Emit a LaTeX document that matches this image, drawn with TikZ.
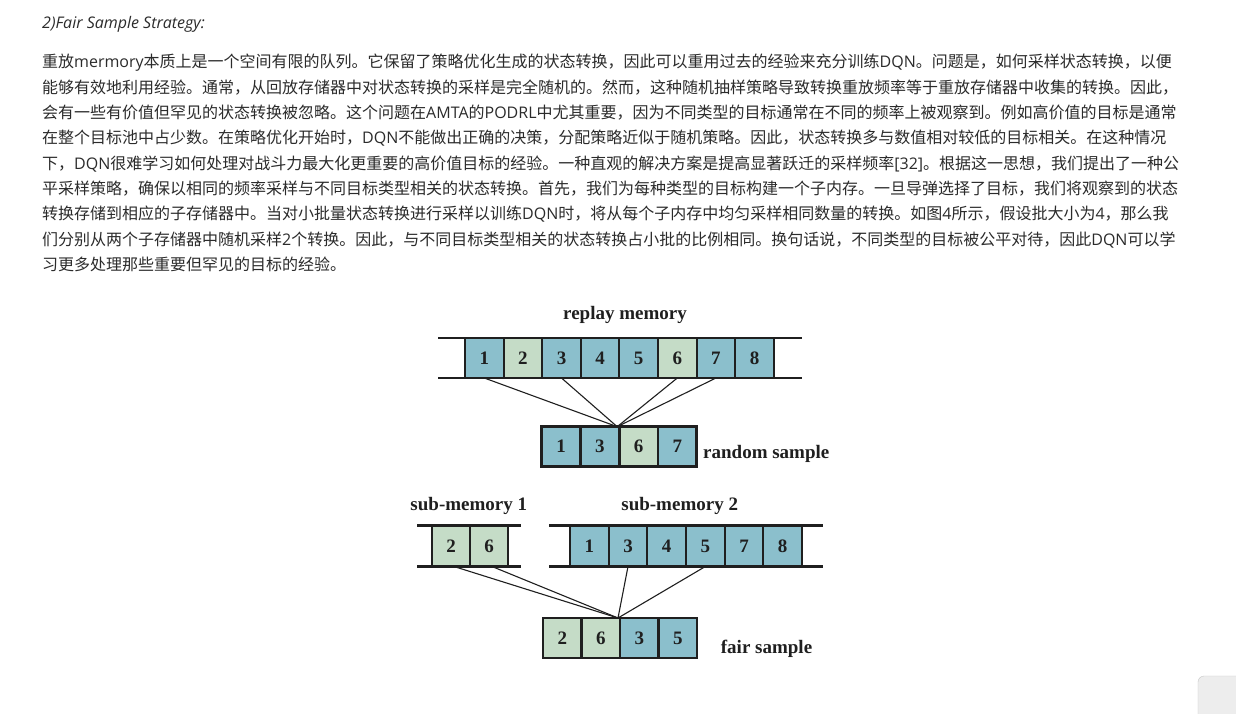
\documentclass[tikz,border=0pt]{standalone}
\usepackage{fontspec}
\setmainfont{Open Sans}
\newfontfamily\cjkfont{Noto Sans CJK SC}
\newfontfamily\figfont{Liberation Serif}
\newcommand{\eng}[1]{{\rmfamily #1}}
\usetikzlibrary{positioning}
\definecolor{cellblue}{RGB}{139,191,204}
\definecolor{cellgreen}{RGB}{197,220,199}
\definecolor{bodytext}{RGB}{43,43,43}

\begin{document}
\begin{tikzpicture}[
    x=1pt, y=-1pt,
    para/.style={anchor=base west, inner sep=0pt, text=bodytext, font=\cjkfont\fontsize{16}{25}\selectfont},
    cell/.style={rectangle, draw=black!88, line width=1.9pt, minimum width=38.6pt, minimum height=40pt, inner sep=0pt, outer sep=0pt, text=black!88, font=\figfont\bfseries\fontsize{19}{19}\selectfont},
    pick/.style={cell, line width=2.6pt},
    rail/.style={line width=2.6pt, draw=black!88},
    link/.style={line width=1.1pt, draw=black!88},
    tag/.style={inner sep=0pt, text=black!88, font=\figfont\bfseries\fontsize{19}{19}\selectfont}
]
\useasboundingbox (0,0) rectangle (1236,714);
\fill[white] (0,0) rectangle (1236,714);

% Text above the figure
\node[anchor=base west, inner sep=0pt, text=bodytext, font=\itshape\fontsize{16}{20}\selectfont] (title) at (42,29) {2)Fair Sample Strategy:};
\node[para] (line1) at (42,68) {重放\eng{mermory}本质上是一个空间有限的队列。它保留了策略优化生成的状态转换，因此可以重用过去的经验来充分训练\eng{DQN}。问题是，如何采样状态转换，以便};
\node[para] (line2) at (42,93.3) {能够有效地利用经验。通常，从回放存储器中对状态转换的采样是完全随机的。然而，这种随机抽样策略导致转换重放频率等于重放存储器中收集的转换。因此，};
\node[para] (line3) at (42,118.6) {会有一些有价值但罕见的状态转换被忽略。这个问题在\eng{AMTA}的\eng{PODRL}中尤其重要，因为不同类型的目标通常在不同的频率上被观察到。例如高价值的目标是通常};
\node[para] (line4) at (42,143.9) {在整个目标池中占少数。在策略优化开始时，\eng{DQN}不能做出正确的决策，分配策略近似于随机策略。因此，状态转换多与数值相对较低的目标相关。在这种情况};
\node[para] (line5) at (42,169.2) {下，\eng{DQN}很难学习如何处理对战斗力最大化更重要的高价值目标的经验。一种直观的解决方案是提高显著跃迁的采样频率\eng{[32]}。根据这一思想，我们提出了一种公};
\node[para] (line6) at (42,194.5) {平采样策略，确保以相同的频率采样与不同目标类型相关的状态转换。首先，我们为每种类型的目标构建一个子内存。一旦导弹选择了目标，我们将观察到的状态};
\node[para] (line7) at (42,219.8) {转换存储到相应的子存储器中。当对小批量状态转换进行采样以训练\eng{DQN}时，将从每个子内存中均匀采样相同数量的转换。如图\eng{4}所示，假设批大小为\eng{4}，那么我};
\node[para] (line8) at (42,245.1) {们分别从两个子存储器中随机采样\eng{2}个转换。因此，与不同目标类型相关的状态转换占小批的比例相同。换句话说，不同类型的目标被公平对待，因此\eng{DQN}可以学};
\node[para] (line9) at (42,270.4) {习更多处理那些重要但罕见的目标的经验。};

% Replay memory
\foreach \n/\c [count=\i] in {1/cellblue, 2/cellgreen, 3/cellblue, 4/cellblue, 5/cellblue, 6/cellgreen, 7/cellblue, 8/cellblue}
  \node[cell, fill=\c] (m\i) at ({465+38.6*(\i-0.5)}, 358) {\n};
\draw[rail] ([xshift=-27pt]m1.north west) -- ([xshift=28pt]m8.north east);
\draw[rail] ([xshift=-27pt]m1.south west) -- ([xshift=28pt]m8.south east);
\node[tag, anchor=base] (replay) at (625,319) {replay memory};

% Random sample
\foreach \n/\c [count=\i] in {1/cellblue, 3/cellblue, 6/cellgreen, 7/cellblue}
  \node[pick, fill=\c, minimum width=38.75pt] (r\i) at ({541.7+38.75*(\i-0.5)}, 446.7) {\n};
\node[tag, anchor=base west] (random) at (703,458) {random sample};
\coordinate (rtip) at ([xshift=-2pt]r2.north east);
\foreach \k in {1,3,6,7}
  \draw[link] (m\k.south) -- (rtip);

% Sub-memories
\foreach \n [count=\i] in {2,6}
  \node[cell, fill=cellgreen, minimum width=38pt, minimum height=41pt] (a\i) at ({432+38*(\i-0.5)}, 546) {\n};
\draw[rail] ([xshift=-15pt]a1.north west) -- ([xshift=13pt]a2.north east);
\draw[rail] ([xshift=-15pt]a1.south west) -- ([xshift=13pt]a2.south east);
\node[tag, anchor=base] (sub1) at (468.8,510) {sub-memory 1};

\foreach \n [count=\i] in {1,3,4,5,7,8}
  \node[cell, fill=cellblue, minimum width=38.67pt, minimum height=41pt] (b\i) at ({570+38.67*(\i-0.5)}, 546) {\n};
\draw[rail] ([xshift=-21pt]b1.north west) -- ([xshift=21pt]b6.north east);
\draw[rail] ([xshift=-21pt]b1.south west) -- ([xshift=21pt]b6.south east);
\node[tag, anchor=base] (sub2) at (679.7,510) {sub-memory 2};

% Fair sample
\foreach \n/\c [count=\i] in {2/cellgreen, 6/cellgreen, 3/cellblue, 5/cellblue}
  \node[pick, fill=\c, minimum width=38.5pt] (f\i) at ({543+38.5*(\i-0.5)}, 638) {\n};
\node[tag, anchor=base west] (fair) at (720.7,653) {fair sample};
\coordinate (ftip) at ([xshift=-2pt]f2.north east);
\draw[link] ([xshift=3pt]a1.south) -- (ftip);
\draw[link] ([xshift=3pt]a2.south) -- (ftip);
\draw[link] (b2.south) -- (ftip);
\draw[link] (b4.south) -- (ftip);

% Corner of the page widget
\begin{scope}
\clip (0,0) rectangle (1236,714);
\draw[draw=black!22, fill=black!7, rounded corners=6pt] (1198,676) rectangle (1250,730);
\end{scope}
\end{tikzpicture}
\end{document}
